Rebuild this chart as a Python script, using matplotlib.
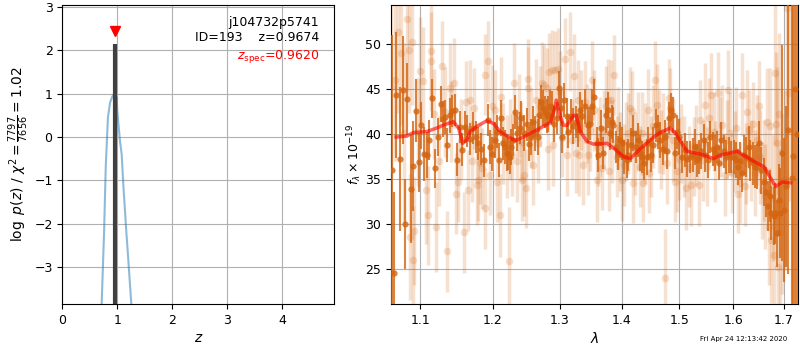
import matplotlib
matplotlib.use("Agg")
import matplotlib.pyplot as plt
from matplotlib.ticker import FixedLocator, FixedFormatter, NullLocator

# p(z) curve
pz_z = [0.70, 0.716, 0.76, 0.79, 0.83, 0.87, 0.91, 0.94, 0.965, 0.99, 1.0, 1.05, 1.08, 1.11, 1.16, 1.21, 1.255, 1.28]
pz_logp = [-4.3, -3.84, -2.2, -0.7, 0.45, 0.8, 0.93, 0.98, 1.0, 0.9, 0.6, -0.1, -0.4, -1.1, -2.1, -3.0, -3.84, -4.3]
z_phot = 0.9674
z_spec = 0.9620
pz_peak = 2.15
zspec_mark = 2.45

# spectrum, first set (dark points)
wave_a = [1.0642, 1.0663, 1.0693, 1.0736, 1.0779, 1.0809, 1.0835, 1.0878, 1.0909, 1.0952,
          1.0983, 1.1018, 1.1054, 1.1085, 1.1116, 1.1160, 1.1204, 1.1240, 1.1276, 1.1308,
          1.1330, 1.1357, 1.1398, 1.1430, 1.1466, 1.1503, 1.1536, 1.1568, 1.1605, 1.1642,
          1.1679, 1.1717, 1.1755, 1.1792, 1.1830, 1.1877, 1.1925,
          1.1958, 1.1992, 1.2030, 1.2068, 1.2088, 1.2126, 1.2150, 1.2174, 1.2199, 1.2223,
          1.2248, 1.2272, 1.2297, 1.2331, 1.2360, 1.2395, 1.2419, 1.2459, 1.2495, 1.2530,
          1.2560, 1.2595, 1.2621, 1.2661, 1.2681, 1.2712, 1.2737, 1.2773, 1.2798, 1.2824,
          1.2849, 1.2875, 1.2911, 1.2952, 1.2989, 1.3020, 1.3041, 1.3072, 1.3109, 1.3135,
          1.3177, 1.3214, 1.3251, 1.3283, 1.3320, 1.3357, 1.3400, 1.3442,
          1.3480, 1.3518, 1.3551, 1.3589, 1.3616, 1.3660, 1.3698, 1.3736, 1.3769, 1.3808,
          1.3836, 1.3864, 1.3903, 1.3936, 1.3975, 1.4003, 1.4048, 1.4088, 1.4116, 1.4161,
          1.4201, 1.4241, 1.4275, 1.4315, 1.4355, 1.4390, 1.4430, 1.4459, 1.4505, 1.4545,
          1.4586, 1.4621, 1.4662, 1.4704, 1.4751, 1.4780, 1.4822, 1.4857, 1.4881, 1.4917,
          1.4959, 1.5001, 1.5049, 1.5097, 1.5139,
          1.5200, 1.5242, 1.5279, 1.5322, 1.5365, 1.5402, 1.5444, 1.5475, 1.5525, 1.5569,
          1.5613, 1.5650, 1.5694, 1.5738, 1.5775, 1.5820, 1.5865, 1.5916, 1.5967, 1.6011,
          1.6056, 1.6094, 1.6140, 1.6172, 1.6205, 1.6250, 1.6302, 1.6335, 1.6380, 1.6419,
          1.6465, 1.6511, 1.6551, 1.6597, 1.6644, 1.6683, 1.6717, 1.6750, 1.6797, 1.6831,
          1.6865, 1.6898, 1.6932, 1.6966, 1.7013, 1.7047, 1.7088, 1.7165, 1.7190, 1.7235,
          1.7275]
flux_a = [36.0, 24.6, 44.4, 37.3, 44.9, 30.0, 43.9, 33.9, 36.5, 42.6,
          36.9, 41.0, 37.8, 37.7, 39.4, 44.0, 36.2, 39.7, 43.4, 41.7,
          41.9, 38.8, 42.1, 42.6, 42.7, 37.2, 40.8, 38.3, 40.8, 40.4,
          39.5, 40.7, 39.7, 39.0, 38.4, 37.1, 41.6,
          38.6, 37.8, 39.4, 40.3, 37.1, 41.8, 39.0, 38.6, 37.9, 37.8,
          37.5, 38.6, 39.4, 42.5, 40.1, 40.7, 41.8, 40.1, 41.1, 38.9,
          39.7, 41.4, 40.1, 39.7, 42.1, 43.6, 42.9, 42.5, 42.0, 42.3,
          43.1, 42.9, 41.2, 41.8, 45.1, 42.9, 39.7, 43.8, 42.0, 40.3,
          42.0, 40.9, 41.4, 40.5, 42.7, 42.0, 43.1, 41.0,
          41.2, 43.1, 44.2, 39.0, 37.7, 40.7, 37.9, 42.1, 42.7, 40.1,
          41.4, 41.0, 38.6, 37.9, 39.4, 39.0, 37.5, 37.1, 37.7, 38.8,
          40.1, 38.6, 39.4, 37.9, 37.5, 36.8, 37.5, 39.0, 37.7, 38.8,
          41.0, 40.3, 39.4, 38.4, 39.7, 38.1, 41.8, 42.7, 42.1, 37.9,
          40.3, 39.7, 37.5, 38.3, 37.3,
          37.5, 37.7, 38.6, 37.1, 37.5, 38.1, 39.4, 37.7, 37.1, 39.7,
          38.4, 37.9, 38.6, 36.8, 39.4, 38.1, 37.5, 37.7, 37.5, 37.5,
          37.1, 36.4, 37.0, 35.7, 37.7, 37.5, 38.6, 37.1, 36.8, 36.4,
          36.4, 39.0, 36.0, 34.7, 33.6, 32.0, 33.1, 31.2, 30.9, 31.2,
          29.0, 32.7, 31.2, 37.9, 31.6, 34.2, 40.5, 35.1, 37.6, 45.0,
          40.0]
err_a = [15.0, 9.0, 7.0, 8.0, 6.0, 5.0, 4.0, 6.0, 5.0, 3.5,
         3.3, 2.6, 3.0, 2.6, 2.2, 2.2, 2.2, 2.1, 2.0, 2.0,
         1.9, 1.9, 1.9, 1.8, 1.8, 1.8, 1.8, 1.8, 1.8, 1.8,
         1.8, 1.8, 1.8, 1.8, 1.8, 1.8, 1.8,
         1.9, 1.9, 2.0, 1.8, 1.9, 2.0, 1.8, 1.9, 2.0, 1.8,
         1.9, 2.0, 1.8, 1.9, 2.0, 1.8, 1.9, 2.0, 1.8, 1.9,
         2.0, 1.8, 1.9, 2.0, 1.8, 1.9, 2.0, 1.8, 1.9, 2.0,
         1.8, 1.9, 2.0, 1.8, 1.9, 2.0, 1.8, 1.9, 2.0, 1.8,
         1.9, 2.0, 1.8, 1.9, 2.0, 1.8, 1.9, 2.0,
         1.8, 1.9, 2.0, 1.8, 1.9, 2.0, 1.8, 1.9, 2.0, 1.8,
         1.9, 2.0, 1.8, 1.9, 2.0, 1.8, 1.9, 2.0, 1.8, 1.9,
         2.0, 1.8, 1.9, 2.0, 1.8, 1.9, 2.0, 1.8, 1.9, 2.0,
         1.8, 1.9, 2.0, 1.8, 1.9, 2.0, 1.8, 1.9, 2.0, 1.8,
         1.9, 2.0, 1.8, 1.9, 2.0,
         1.8, 1.9, 2.0, 1.8, 1.9, 2.0, 1.8, 1.9, 2.0, 1.8,
         1.9, 2.0, 1.8, 1.9, 2.0, 1.8, 1.9, 2.0, 1.8, 1.9,
         2.0, 2.0, 2.1, 2.1, 2.2, 2.2, 2.3, 2.3, 2.4, 2.4,
         2.5, 2.5, 2.6, 2.7, 2.8, 2.8, 2.9, 3.0, 3.2, 3.4,
         3.7, 4.0, 5.0, 12.0, 8.0, 9.0, 16.0, 25.0, 30.0, 30.0,
         30.0]

# spectrum, second set (light points)
wave_b = [1.0620, 1.0680, 1.0714, 1.0757, 1.0791, 1.0824, 1.0854, 1.0867, 1.0898, 1.0911,
          1.0924, 1.0968, 1.0999, 1.1040, 1.1076, 1.1107, 1.1142, 1.1151, 1.1187, 1.1218,
          1.1249, 1.1294, 1.1330, 1.1366, 1.1398, 1.1421, 1.1457, 1.1489, 1.1512, 1.1549,
          1.1596, 1.1628, 1.1652, 1.1675, 1.1707, 1.1736, 1.1769, 1.1792, 1.1816, 1.1849,
          1.1887, 1.1896, 1.1925,
          1.1958, 1.1982, 1.2030, 1.2068, 1.2102, 1.2116, 1.2150, 1.2199, 1.2233, 1.2248,
          1.2282, 1.2311, 1.2346, 1.2380, 1.2409, 1.2429, 1.2459, 1.2480, 1.2510, 1.2520,
          1.2560, 1.2595, 1.2631, 1.2671, 1.2697, 1.2722, 1.2763, 1.2798, 1.2814, 1.2839,
          1.2875, 1.2901, 1.2926, 1.2968, 1.3004, 1.3041, 1.3083, 1.3114, 1.3161, 1.3187,
          1.3230, 1.3251, 1.3283, 1.3304, 1.3336, 1.3373, 1.3400, 1.3426,
          1.3453, 1.3480, 1.3518, 1.3551, 1.3589, 1.3616, 1.3643, 1.3682, 1.3714, 1.3736,
          1.3769, 1.3791, 1.3825, 1.3847, 1.3880, 1.3919, 1.3947, 1.3975, 1.4003, 1.4048,
          1.4071, 1.4105, 1.4144, 1.4173, 1.4201, 1.4229, 1.4275, 1.4315, 1.4344, 1.4372,
          1.4401, 1.4447, 1.4470, 1.4505, 1.4545, 1.4574, 1.4604, 1.4645, 1.4680, 1.4721,
          1.4745, 1.4780, 1.4810, 1.4839, 1.4881, 1.4917, 1.4959, 1.4989, 1.5037, 1.5079,
          1.5121,
          1.5169, 1.5218, 1.5261, 1.5304, 1.5353, 1.5383, 1.5426, 1.5475, 1.5506, 1.5550,
          1.5588, 1.5632, 1.5663, 1.5713, 1.5757, 1.5788, 1.5839, 1.5884, 1.5903, 1.5948,
          1.5980, 1.6030, 1.6056, 1.6094, 1.6140, 1.6172, 1.6224, 1.6250, 1.6270, 1.6302,
          1.6354, 1.6387, 1.6419, 1.6465, 1.6498, 1.6531, 1.6564, 1.6597, 1.6630, 1.6664,
          1.6697, 1.6730, 1.6750, 1.6777, 1.6797, 1.6818, 1.6845, 1.6865, 1.6885, 1.6912,
          1.6932, 1.6966, 1.7020, 1.7068, 1.7101]
flux_b = [45.3, 46.0, 51.4, 49.0, 40.1, 52.8, 49.4, 28.6, 50.3, 26.0,
          29.2, 40.3, 47.0, 45.9, 33.8, 31.0, 49.3, 48.1, 42.3, 29.7,
          37.0, 47.6, 42.5, 27.0, 45.1, 41.4, 45.7, 33.4, 34.7, 39.4,
          29.1, 43.6, 33.8, 43.8, 37.0, 42.9, 34.4, 34.9, 36.8, 36.2,
          31.8, 46.6, 48.1,
          35.5, 43.1, 42.7, 34.7, 31.0, 44.2, 39.0, 37.5, 25.9, 39.4,
          37.7, 45.7, 37.0, 42.1, 39.2, 34.9, 35.5, 34.0, 46.1, 45.1,
          40.7, 36.6, 43.8, 39.0, 43.1, 45.7, 45.5, 45.1, 38.4, 46.9,
          47.1, 38.8, 47.1, 47.3, 44.7, 39.6, 48.4, 37.7, 49.2, 39.4,
          46.5, 37.9, 43.8, 37.7, 42.7, 36.6, 43.6, 41.2,
          37.7, 40.5, 46.0, 42.7, 34.9, 38.6, 39.7, 36.2, 40.5, 43.1,
          43.8, 35.9, 43.8, 39.2, 46.6, 37.5, 40.7, 38.1, 34.9, 36.6,
          39.2, 40.1, 42.9, 42.6, 34.6, 37.9, 40.3, 36.4, 40.1, 34.6,
          39.0, 42.7, 35.7, 37.5, 40.9, 46.0, 43.3, 40.3, 38.3, 40.1,
          24.0, 36.8, 44.0, 42.9, 39.4, 34.7, 35.9, 37.3, 39.0, 37.5,
          34.0,
          36.4, 34.4, 37.5, 38.8, 34.4, 41.6, 37.1, 43.3, 36.4, 41.8,
          44.4, 40.3, 37.0, 44.6, 39.7, 41.0, 35.5, 39.4, 44.9, 40.1,
          35.7, 38.1, 40.7, 33.4, 34.6, 44.4, 34.2, 36.8, 42.5, 40.5,
          37.1, 41.2, 35.7, 39.4, 43.1, 37.5, 33.8, 36.0, 33.1, 41.4,
          29.7, 40.9, 28.3, 32.9, 26.6, 46.8, 41.2, 39.0, 25.3, 42.3,
          29.0, 32.3, 34.9, 54.0, 44.6]
err_b = [10.0, 9.0, 9.0, 8.0, 10.0, 8.0, 7.0, 7.0, 7.0, 6.0,
         6.0, 6.0, 6.0, 6.0, 6.0, 5.5, 5.5, 5.5, 5.0, 5.0,
         5.0, 5.0, 5.0, 4.5, 5.0, 4.5, 5.0, 4.5, 4.5, 4.5,
         4.5, 4.5, 4.5, 4.5, 4.5, 4.5, 4.5, 4.5, 4.5, 4.5,
         4.5, 4.5, 4.5,
         4.5, 4.6, 4.4, 4.5, 4.6, 4.4, 4.5, 4.6, 6.0, 4.5,
         4.6, 4.4, 4.5, 4.6, 4.4, 4.5, 4.6, 4.4, 4.5, 4.6,
         4.4, 4.5, 4.6, 4.4, 4.5, 4.6, 4.4, 4.5, 4.6, 4.4,
         4.5, 4.6, 4.4, 4.5, 4.6, 4.4, 4.5, 4.6, 4.4, 4.5,
         4.6, 4.4, 4.5, 4.6, 4.4, 4.5, 4.6, 4.4,
         4.5, 4.6, 4.4, 4.5, 4.6, 4.4, 4.5, 4.6, 4.4, 4.5,
         4.6, 4.4, 4.5, 4.6, 4.4, 4.5, 4.6, 4.4, 4.5, 4.6,
         4.4, 4.5, 4.6, 4.4, 4.5, 4.6, 4.4, 4.5, 4.6, 4.4,
         4.5, 4.6, 4.4, 4.5, 4.6, 4.4, 4.5, 4.6, 4.4, 4.5,
         5.5, 4.6, 4.4, 4.5, 4.6, 4.4, 4.5, 4.6, 4.4, 4.5,
         4.6,
         4.5, 4.6, 4.4, 4.5, 4.6, 4.4, 4.5, 4.6, 4.4, 4.5,
         4.6, 4.4, 4.5, 4.6, 4.4, 4.5, 4.6, 4.4, 4.5, 4.6,
         4.4, 4.5, 4.6, 4.4, 4.5, 4.6, 4.4, 4.5, 4.6, 4.4,
         4.5, 4.6, 4.8, 5.0, 5.0, 5.2, 5.4, 5.6, 5.8, 6.0,
         6.5, 6.5, 7.0, 7.0, 7.5, 8.0, 8.0, 8.5, 9.0, 9.0,
         9.5, 10.0, 10.0, 12.0, 12.0]

# best-fit template
model_wave = [1.0688, 1.0826, 1.0912, 1.1089, 1.1222, 1.1334, 1.1448, 1.1517, 1.1578, 1.1633,
              1.1680, 1.1797, 1.1915, 1.2010, 1.2107, 1.2253, 1.2327, 1.2450, 1.2600, 1.2752,
              1.2855, 1.2917, 1.2948, 1.3010, 1.3061, 1.3115, 1.3219, 1.3262, 1.3325, 1.3433,
              1.3540, 1.3760, 1.3897, 1.4036, 1.4149, 1.4320, 1.4550, 1.4667, 1.4843, 1.4933,
              1.5144, 1.5388, 1.5634, 1.5761, 1.6080, 1.6404, 1.6602, 1.6836, 1.6972, 1.7142]
model_flux = [39.7, 39.8, 40.2, 40.3, 40.7, 41.1, 41.4, 40.7, 39.0, 39.4,
              40.3, 41.0, 41.5, 41.2, 40.3, 39.6, 39.3, 39.7, 40.3, 40.9,
              41.3, 42.7, 43.8, 42.0, 41.0, 41.0, 42.1, 42.1, 40.3, 39.2,
              38.9, 39.0, 38.3, 37.5, 37.3, 38.4, 39.7, 40.2, 40.7, 40.1,
              38.1, 37.8, 37.3, 37.7, 38.1, 37.0, 36.4, 34.2, 34.7, 34.6]

lam_ticks = [1.1, 1.2, 1.3, 1.4, 1.5, 1.6, 1.7]
orange = "#d4640f"

fig = plt.figure(figsize=(8, 3.5), dpi=100)
ax1 = fig.add_axes([0.0779, 0.1314, 0.34, 0.8543])
ax2 = fig.add_axes([0.4884, 0.1314, 0.5095, 0.8543])

# left: redshift probability
ax1.plot(pz_z, pz_logp, color="tab:blue", alpha=0.5, lw=1.5)
ax1.vlines(z_phot, -10, pz_peak, color="0.25", lw=3)
ax1.plot([z_spec], [zspec_mark], marker="v", color="red", ms=7, ls="none")
ax1.set_xlim(0, 4.95)
ax1.set_ylim(-3.85, 3.04)
ax1.set_xticks([0, 1, 2, 3, 4])
ax1.set_yticks([-3, -2, -1, 0, 1, 2, 3])
ax1.grid(True)
ax1.set_axisbelow(True)
ax1.set_xlabel(r"$z$", fontsize=10, labelpad=3)
ax1.set_ylabel(r"$\log\ p(z)$ / $\chi^2=\frac{7797}{7656}=1.02$", fontsize=10, labelpad=2)
ax1.tick_params(labelsize=9)
ax1.text(0.945, 0.941, "j104732p5741", transform=ax1.transAxes, ha="right", va="center", fontsize=9)
ax1.text(0.945, 0.891, "ID=193    z=%.4f" % z_phot, transform=ax1.transAxes, ha="right", va="center", fontsize=9)
ax1.text(0.945, 0.827, r"$z_\mathrm{spec}$=%.4f" % z_spec, transform=ax1.transAxes, ha="right",
         va="center", fontsize=9, color="red")

# right: spectrum
ax2.errorbar(wave_b, flux_b, yerr=err_b, marker="o", ls="none", color=orange, alpha=0.2,
             ms=5.5, elinewidth=2.5, mew=0, zorder=2)
ax2.errorbar(wave_a, flux_a, yerr=err_a, marker="o", ls="none", color=orange, alpha=0.8,
             ms=4.5, elinewidth=1.5, mew=0, zorder=3)
ax2.plot(model_wave, model_flux, color="red", alpha=0.6, lw=2.5, zorder=4)
ax2.set_xscale("log")
ax2.set_xlim(1.062, 1.730)
ax2.set_ylim(21.14, 54.37)
ax2.xaxis.set_major_locator(FixedLocator(lam_ticks))
ax2.xaxis.set_major_formatter(FixedFormatter(["%.1f" % t for t in lam_ticks]))
ax2.xaxis.set_minor_locator(NullLocator())
ax2.set_yticks([25, 30, 35, 40, 45, 50])
ax2.grid(True)
ax2.set_axisbelow(True)
ax2.tick_params(labelsize=9)
ax2.set_xlabel(r"$\lambda$", fontsize=10, labelpad=3)
ax2.set_ylabel(r"$f_\lambda\times10^{-19}$", fontsize=9, labelpad=1)

fig.text(0.984, 0.031, "Fri Apr 24 12:13:42 2020", ha="right", va="center", fontsize=5)

fig.savefig("out.png", dpi=100)
